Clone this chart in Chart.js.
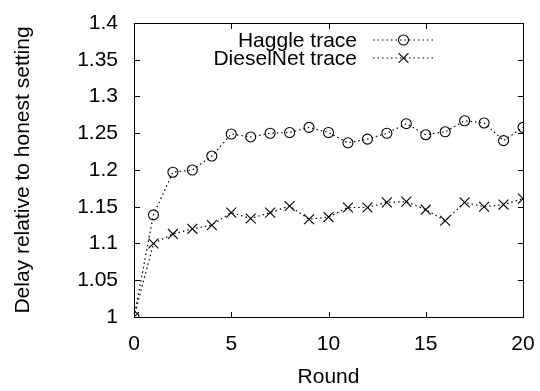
<!DOCTYPE html>
<html>
<head>
<meta charset="utf-8">
<script src="https://cdn.jsdelivr.net/npm/chart.js@4/dist/chart.umd.min.js"></script>
<style>
  html, body { margin: 0; padding: 0; background: #fff; }
  #wrap { position: relative; width: 540px; height: 391px; overflow: hidden; }
  #myChart { display: block; }
  .frame { position: absolute; box-sizing: border-box; border: 1px solid #000; pointer-events: none; }
  .tick { position: absolute; background: #000; pointer-events: none; }
</style>
</head>
<body>
<div id="wrap"><canvas id="myChart" width="540" height="391"></canvas></div>
<script>
const rounds = [0, 1, 2, 3, 4, 5, 6, 7, 8, 9, 10, 11, 12, 13, 14, 15, 16, 17, 18, 19, 20];
const haggle = [1.0, 1.139, 1.197, 1.200, 1.219, 1.249, 1.245, 1.250, 1.251, 1.258, 1.251,
                1.237, 1.242, 1.250, 1.263, 1.248, 1.252, 1.267, 1.264, 1.240, 1.258];
const diesel = [1.0, 1.100, 1.113, 1.120, 1.125, 1.142, 1.134, 1.142, 1.151, 1.133, 1.136,
                1.149, 1.149, 1.156, 1.157, 1.146, 1.131, 1.156, 1.150, 1.153, 1.161];
const xTicks = [0, 5, 10, 15, 20];
const yTicks = [1, 1.05, 1.1, 1.15, 1.2, 1.25, 1.3, 1.35, 1.4];
const seriesNames = ['Haggle trace', 'DieselNet trace'];

const FONT = 'Liberation Sans, Arial, Helvetica, sans-serif';

const toPoints = (ys) => rounds.map((r, i) => ({x: r, y: ys[i]}));

// gnuplot style key inside the plot: text right-aligned, line sample on the right
const keyPlugin = {
  id: 'key',
  afterDraw(chart) {
    const ctx = chart.ctx;
    const textRight = 357, lineL = 373, lineR = 434, rowY = [40, 58];
    ctx.save();
    ctx.font = '21px ' + FONT;
    ctx.textAlign = 'right';
    ctx.textBaseline = 'middle';
    chart.data.datasets.forEach((ds, i) => {
      const y = rowY[i];
      ctx.fillStyle = '#000';
      ctx.fillText(ds.label, textRight, y + 1);
      ctx.save();
      ctx.strokeStyle = '#000';
      ctx.setLineDash(ds.borderDash);
      ctx.lineWidth = ds.borderWidth;
      ctx.beginPath();
      ctx.moveTo(lineL, y); ctx.lineTo(lineR, y);
      ctx.stroke();
      ctx.setLineDash([]);
      ctx.lineWidth = ds.pointBorderWidth;
      ctx.fillStyle = 'rgba(0,0,0,0)';
      Chart.helpers.drawPoint(ctx, {
        pointStyle: ds.pointStyle, radius: ds.pointRadius, borderWidth: ds.pointBorderWidth, rotation: 0
      }, (lineL + lineR) / 2, y);
      ctx.restore();
    });
    ctx.restore();
  }
};

const data = {
  datasets: [{
    label: seriesNames[0],
    data: toPoints(haggle),
    borderColor: '#000',
    backgroundColor: 'rgba(0,0,0,0)',
    borderWidth: 1.2,
    borderDash: [1.5, 3],
    pointStyle: 'circle',
    pointRadius: 5,
    pointBorderWidth: 1.1,
    pointBorderColor: '#000',
    pointBackgroundColor: 'rgba(0,0,0,0)'
  }, {
    label: seriesNames[1],
    data: toPoints(diesel),
    borderColor: '#000',
    backgroundColor: 'rgba(0,0,0,0)',
    borderWidth: 1.2,
    borderDash: [1.5, 3],
    pointStyle: 'crossRot',
    pointRadius: 7,
    pointBorderWidth: 1.1,
    pointBorderColor: '#000',
    pointBackgroundColor: 'rgba(0,0,0,0)'
  }]
};

const config = {
  type: 'line',
  data: data,
  options: {
    responsive: false,
    animation: false,
    layout: { padding: { top: 23, right: 17, left: 0, bottom: 0 } },
    plugins: { legend: { display: false }, tooltip: { enabled: false } },
    scales: {
      x: {
        type: 'linear', position: 'bottom', min: 0, max: 20,
        afterBuildTicks: (s) => { s.ticks = xTicks.map(v => ({value: v})); },
        afterFit: (s) => { s.height = 74; s.paddingLeft = 0; s.paddingRight = 0; },
        grid: { drawOnChartArea: false, drawTicks: false },
        border: { display: false },
        ticks: { color: '#000', padding: 15, maxRotation: 0, font: { family: FONT, size: 21 } },
        title: { display: true, text: 'Round', color: '#000', padding: { top: 0, bottom: 1 },
                 font: { family: FONT, size: 21 } }
      },
      y: {
        type: 'linear', position: 'left', min: 1, max: 1.4,
        afterBuildTicks: (s) => { s.ticks = yTicks.map(v => ({value: v})); },
        afterFit: (s) => { s.width = 134; s.paddingTop = 0; s.paddingBottom = 0; },
        grid: { drawOnChartArea: false, drawTicks: false },
        border: { display: false },
        ticks: { color: '#000', padding: 16, font: { family: FONT, size: 21 },
                 callback: (v) => String(+Number(v).toFixed(2)) },
        title: { display: true, text: 'Delay relative to honest setting', color: '#000',
                 padding: { top: 11, bottom: 0 }, font: { family: FONT, size: 21 } }
      }
    }
  },
  plugins: [keyPlugin]
};

const myChart = new Chart(document.getElementById('myChart'), config);

// frame and inward ticks on all four sides, placed from the chart's own scales
const wrap = document.getElementById('wrap');
const sx = myChart.scales.x, sy = myChart.scales.y;
const L = Math.round(sx.getPixelForValue(xTicks[0]));
const R = Math.round(sx.getPixelForValue(xTicks[xTicks.length - 1]));
const T = Math.round(sy.getPixelForValue(yTicks[yTicks.length - 1]));
const B = Math.round(sy.getPixelForValue(yTicks[0]));
const box = document.createElement('div');
box.className = 'frame';
Object.assign(box.style, { left: L + 'px', top: T + 'px', width: (R - L + 1) + 'px', height: (B - T + 1) + 'px' });
wrap.appendChild(box);
const addTick = (x, y, w, h) => {
  const t = document.createElement('div');
  t.className = 'tick';
  Object.assign(t.style, { left: x + 'px', top: y + 'px', width: w + 'px', height: h + 'px' });
  wrap.appendChild(t);
};
const TL = 6;
xTicks.forEach(v => {
  const px = Math.round(sx.getPixelForValue(v));
  addTick(px, B - TL + 1, 1, TL);
  addTick(px, T, 1, TL);
});
yTicks.forEach(v => {
  const py = Math.round(sy.getPixelForValue(v));
  addTick(L, py, TL, 1);
  addTick(R - TL + 1, py, TL, 1);
});
</script>
</body>
</html>
